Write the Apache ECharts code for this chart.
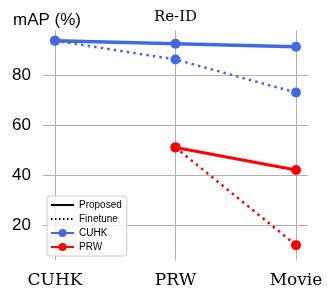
<!DOCTYPE html>
<html>
<head>
<meta charset="utf-8">
<script src="https://cdn.jsdelivr.net/npm/echarts@6/dist/echarts.min.js"></script>
<style>html,body{margin:0;padding:0;background:#fff}#c{width:331px;height:299px}</style>
</head>
<body>
<div id="c"></div>
<script>
var categories = ['CUHK', 'PRW', 'Movie'];
var cuhkProposed = [93.7, 92.5, 91.3];
var cuhkFinetune = [93.7, 86.2, 73.0];
var prwProposed = [null, 51.1, 42.1];
var prwFinetune = [null, 51.1, 12.1];
var yTickMin = 0, yTickMax = 100, yTickStep = 20;
var yMin = 8.0, yMax = 97.8;
var titleText = 'Re-ID';
var yTitle = 'mAP (%)';

var BLUE = '#4169E1', RED = '#FF0000', GRIDC = '#b0b0b0';
var SANS = 'Liberation Sans', SERIF = 'DejaVu Serif';
var dotted = [2.5, 4.1];

var chart = echarts.init(document.getElementById('c'), null, {renderer: 'canvas'});
chart.setOption({
  animation: false,
  backgroundColor: '#fff',
  graphic: [
    {type: 'text', x: 175.5, y: 17.5, style: {text: titleText, font: '15px "' + SERIF + '"', fill: '#000', textAlign: 'center', textVerticalAlign: 'middle'}},
    {type: 'text', x: 13, y: 20.5, style: {text: yTitle, font: '17px "' + SANS + '"', fill: '#000', textAlign: 'left', textVerticalAlign: 'middle'}}
  ],
  grid: [
    {left: 43, right: 23, top: 25.4, bottom: 23.6},
    {left: 55, right: 35, top: 30.4, bottom: 43.6}
  ],
  xAxis: [
    {gridIndex: 0, type: 'value', min: 0, max: 1, show: false},
    {gridIndex: 1, type: 'category', data: categories, boundaryGap: false,
     axisLine: {show: false},
     axisTick: {show: true, length: 5, alignWithLabel: true, lineStyle: {color: GRIDC, width: 1}},
     splitLine: {show: true, lineStyle: {color: GRIDC, width: 1}},
     axisLabel: {margin: 17, color: '#000', fontFamily: SERIF, fontSize: 17}}
  ],
  yAxis: [
    {gridIndex: 0, type: 'value', min: yTickMin, max: yTickMax, interval: yTickStep,
     axisLine: {show: false}, axisTick: {show: false},
     splitLine: {show: true, showMinLine: false, showMaxLine: false, lineStyle: {color: GRIDC, width: 1}},
     axisLabel: {margin: 12, color: '#000', fontFamily: SANS, fontSize: 17,
       formatter: function (v) { return (v === yTickMin || v === yTickMax) ? '' : String(v); }}},
    {gridIndex: 1, type: 'value', min: yMin, max: yMax, show: false}
  ],
  legend: {
    data: ['Proposed', 'Finetune', 'CUHK', 'PRW'],
    orient: 'vertical', left: 47, top: 196,
    itemWidth: 23, itemHeight: 10, itemGap: 4,
    padding: [4, 5, 4, 3],
    backgroundColor: 'rgba(255,255,255,0.8)', borderColor: '#cccccc', borderWidth: 1, borderRadius: 3,
    textStyle: {fontFamily: SANS, fontSize: 10, color: '#000'}
  },
  series: [
    {name: 'Proposed', type: 'line', xAxisIndex: 1, yAxisIndex: 1, data: [], symbol: 'none', color: '#000', itemStyle: {opacity: 0}, lineStyle: {color: '#000', width: 1.5}},
    {name: 'Finetune', type: 'line', xAxisIndex: 1, yAxisIndex: 1, data: [], symbol: 'none', color: '#000', itemStyle: {opacity: 0}, lineStyle: {color: '#000', width: 1.5, type: [1.5, 2.5]}},
    {name: 'PRW-ft', type: 'line', xAxisIndex: 1, yAxisIndex: 1, data: prwFinetune, symbol: 'circle', symbolSize: 10, color: RED, itemStyle: {color: RED}, lineStyle: {color: RED, width: 2.5, type: dotted}},
    {name: 'PRW', type: 'line', xAxisIndex: 1, yAxisIndex: 1, data: prwProposed, symbol: 'circle', symbolSize: 10, color: RED, itemStyle: {color: RED}, lineStyle: {color: RED, width: 3}},
    {name: 'CUHK-ft', type: 'line', xAxisIndex: 1, yAxisIndex: 1, data: cuhkFinetune, symbol: 'circle', symbolSize: 10, color: BLUE, itemStyle: {color: BLUE}, lineStyle: {color: BLUE, width: 2.5, type: dotted}},
    {name: 'CUHK', type: 'line', xAxisIndex: 1, yAxisIndex: 1, data: cuhkProposed, symbol: 'circle', symbolSize: 10, color: BLUE, itemStyle: {color: BLUE}, lineStyle: {color: BLUE, width: 3.5}}
  ]
});
</script>
</body>
</html>
